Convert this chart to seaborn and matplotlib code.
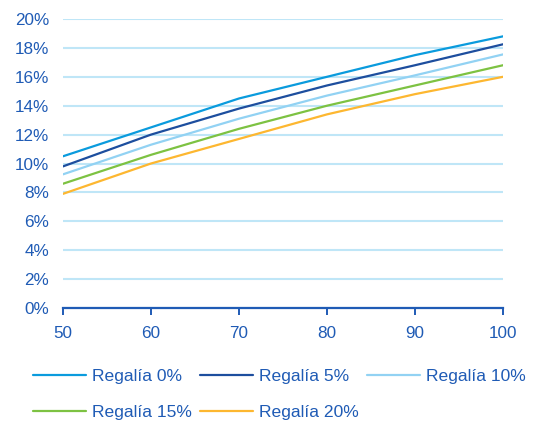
import numpy as np
import pandas as pd
import matplotlib
matplotlib.use("Agg")
import matplotlib.pyplot as plt
import seaborn as sns
from matplotlib.ticker import PercentFormatter

# data
precio = [50, 60, 70, 80, 90, 100]
regalia_0 = [10.5, 12.5, 14.5, 16.0, 17.5, 18.8]
regalia_5 = [9.8, 12.0, 13.8, 15.4, 16.8, 18.25]
regalia_10 = [9.25, 11.3, 13.1, 14.7, 16.1, 17.55]
regalia_15 = [8.6, 10.6, 12.4, 14.0, 15.4, 16.8]
regalia_20 = [7.9, 10.0, 11.7, 13.4, 14.8, 16.0]
series_names = ["Regalía 0%", "Regalía 5%", "Regalía 10%", "Regalía 15%", "Regalía 20%"]
colors = ["#0A9BDD", "#1D4E9E", "#92D2F3", "#7DC242", "#FDB730"]

TEXT = "#1F5BB5"
GRID = "#BFE6F7"
FS = 12.3

rows = []
for name, vals in zip(series_names, [regalia_0, regalia_5, regalia_10, regalia_15, regalia_20]):
    for x, v in zip(precio, vals):
        rows.append({"precio": x, "tir": v, "serie": name})
df = pd.DataFrame(rows)

sns.set_style("white")
plt.rcParams["font.family"] = ["Liberation Sans", "DejaVu Sans"]

fig = plt.figure(figsize=(5.42, 4.21), dpi=100)
ax = fig.add_axes([63 / 542, 1 - 308 / 421, 440 / 542, 289 / 421])

sns.lineplot(
    data=df,
    x="precio",
    y="tir",
    hue="serie",
    hue_order=series_names,
    palette=colors,
    linewidth=1.6,
    ax=ax,
    legend=False,
)

ax.set_xlim(50, 100)
ax.set_ylim(0, 20)
ax.set_xticks(precio)
ax.set_yticks(np.arange(0, 21, 2))
ax.yaxis.set_major_formatter(PercentFormatter(decimals=0))
ax.set_xlabel("")
ax.set_ylabel("")

ax.grid(axis="y", color=GRID, linewidth=1.5)
ax.grid(axis="x", visible=False)
ax.set_axisbelow(True)
for side in ["top", "right", "left"]:
    ax.spines[side].set_visible(False)
ax.spines["bottom"].set_color(TEXT)
ax.spines["bottom"].set_linewidth(1.6)
ax.spines["bottom"].set_zorder(3)

ax.tick_params(axis="x", bottom=True, colors=TEXT, direction="out", length=5, width=1.4,
               labelsize=FS, labelcolor=TEXT, pad=8)
ax.tick_params(axis="y", left=False, length=0, labelsize=FS, labelcolor=TEXT, pad=10)

# matplotlib fills legend columns first; reorder so rows read left to right
order = [0, 3, 1, 4, 2]
handles = [plt.Line2D([0], [0], color=colors[i], linewidth=1.6) for i in order]
labels = [series_names[i] for i in order]
fig.legend(
    handles,
    labels,
    loc="upper left",
    bbox_to_anchor=(33 / 542, 1 - 369 / 421),
    ncol=3,
    frameon=False,
    fontsize=12.6,
    labelcolor=TEXT,
    borderpad=0,
    borderaxespad=0,
    handlelength=3.0,
    handletextpad=0.35,
    columnspacing=0.5,
    labelspacing=1.2,
)

fig.savefig("out.png", dpi=100)
